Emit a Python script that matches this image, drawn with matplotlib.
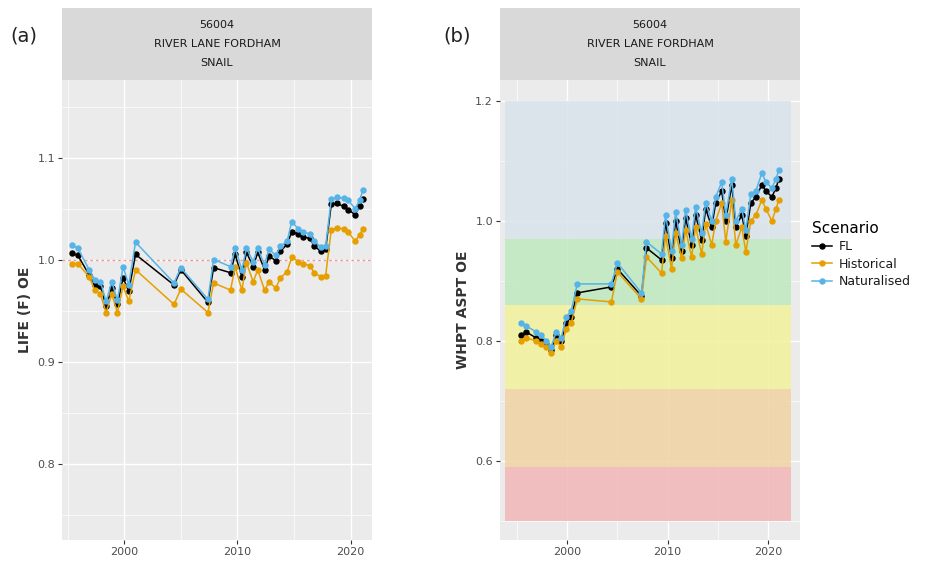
import matplotlib
matplotlib.use("Agg")
import matplotlib.pyplot as plt
from matplotlib.lines import Line2D

# ---------------- data ----------------
dates = [1995.4, 1995.9, 1996.9, 1997.4, 1997.9, 1998.4, 1998.9, 1999.4, 1999.9, 2000.4,
         2001.0, 2004.4, 2005.0, 2007.4, 2007.9, 2009.4, 2009.8, 2010.4, 2010.8, 2011.4,
         2011.8, 2012.4, 2012.8, 2013.4, 2013.8, 2014.4, 2014.8, 2015.4, 2015.8, 2016.4,
         2016.8, 2017.4, 2017.8, 2018.3, 2018.8, 2019.4, 2019.8, 2020.4, 2020.8, 2021.1]

life_fl = [1.006, 1.004, 0.985, 0.975, 0.974, 0.954, 0.972, 0.956, 0.982, 0.969,
           1.005, 0.975, 0.990, 0.958, 0.992, 0.987, 1.005, 0.983, 1.007, 0.993,
           1.007, 0.990, 1.003, 0.999, 1.008, 1.015, 1.027, 1.025, 1.022, 1.021,
           1.013, 1.008, 1.010, 1.054, 1.055, 1.052, 1.049, 1.044, 1.052, 1.059]
life_hist = [0.996, 0.996, 0.983, 0.970, 0.966, 0.948, 0.966, 0.948, 0.974, 0.959,
             0.990, 0.956, 0.971, 0.948, 0.977, 0.970, 0.993, 0.970, 0.997, 0.978,
             0.990, 0.970, 0.978, 0.972, 0.982, 0.988, 1.002, 0.998, 0.996, 0.994,
             0.987, 0.983, 0.984, 1.029, 1.031, 1.030, 1.027, 1.018, 1.024, 1.030]
life_nat = [1.014, 1.011, 0.990, 0.980, 0.978, 0.959, 0.978, 0.960, 0.993, 0.975,
            1.017, 0.977, 0.992, 0.961, 1.000, 0.993, 1.011, 0.990, 1.011, 0.998,
            1.011, 0.995, 1.010, 1.004, 1.013, 1.018, 1.037, 1.030, 1.027, 1.025,
            1.018, 1.012, 1.013, 1.059, 1.061, 1.060, 1.058, 1.050, 1.058, 1.068]

aspt_fl = [0.810, 0.815, 0.805, 0.800, 0.795, 0.785, 0.810, 0.800, 0.830, 0.840,
           0.880, 0.890, 0.920, 0.875, 0.955, 0.935, 0.997, 0.938, 1.000, 0.950,
           1.005, 0.960, 1.010, 0.968, 1.020, 0.990, 1.030, 1.050, 1.000, 1.060,
           0.990, 1.010, 0.975, 1.030, 1.040, 1.060, 1.050, 1.040, 1.055, 1.070]
aspt_hist = [0.800, 0.805, 0.800, 0.795, 0.790, 0.780, 0.800, 0.790, 0.820, 0.830,
             0.870, 0.865, 0.915, 0.870, 0.940, 0.913, 0.975, 0.920, 0.980, 0.938,
             0.985, 0.940, 0.990, 0.945, 0.995, 0.960, 1.000, 1.030, 0.965, 1.035,
             0.960, 0.990, 0.948, 1.000, 1.010, 1.035, 1.020, 1.000, 1.020, 1.035]
aspt_nat = [0.830, 0.825, 0.815, 0.810, 0.800, 0.790, 0.815, 0.805, 0.840, 0.850,
            0.895, 0.895, 0.930, 0.880, 0.965, 0.945, 1.010, 0.950, 1.015, 0.960,
            1.018, 0.970, 1.023, 0.980, 1.030, 1.000, 1.040, 1.065, 1.010, 1.070,
            1.000, 1.020, 0.985, 1.045, 1.050, 1.080, 1.065, 1.055, 1.070, 1.085]

scenarios = ["FL", "Historical", "Naturalised"]
colors = {"FL": "#000000", "Historical": "#E69F00", "Naturalised": "#56B4E9"}

band_edges = [0.5, 0.59, 0.72, 0.86, 0.97, 1.2]
band_colors = ["#f2b6b6", "#f1d3a2", "#f2f29c", "#bfe8bf", "#d9e3ec"]

strip_lines = "56004\nRIVER LANE FORDHAM\nSNAIL"

# ---------------- figure ----------------
W, H = 946, 563
fig = plt.figure(figsize=(W / 100, H / 100), dpi=100)
fig.patch.set_facecolor("white")

def px_axes(x0, y0, x1, y1):
    return fig.add_axes([x0 / W, 1 - y1 / H, (x1 - x0) / W, (y1 - y0) / H])

PANEL = "#EBEBEB"
TXT = "#4D4D4D"

def style(ax, xmaj, xmin_, ymaj, ymin_):
    ax.set_facecolor(PANEL)
    for s in ax.spines.values():
        s.set_visible(False)
    ax.set_xticks(xmaj)
    ax.set_xticks(xmin_, minor=True)
    ax.set_yticks(ymaj)
    ax.set_yticks(ymin_, minor=True)
    ax.grid(True, which="major", color="white", lw=1.0, zorder=0)
    ax.grid(True, which="minor", color="white", lw=0.5, zorder=0)
    ax.set_axisbelow(True)
    ax.tick_params(which="major", length=3, width=0.8, color="#333333",
                   labelsize=8, labelcolor=TXT, pad=2)
    ax.tick_params(which="minor", length=0)

def strip(x0, x1):
    sax = px_axes(x0, 8, x1, 80)
    sax.set_facecolor("#D9D9D9")
    for s in sax.spines.values():
        s.set_visible(False)
    sax.set_xticks([])
    sax.set_yticks([])
    sax.text(0.5, 0.5, strip_lines, ha="center", va="center", fontsize=8,
             color="#1A1A1A", linespacing=2.1, transform=sax.transAxes)

def draw_series(ax, ys):
    for name, y in zip(scenarios, ys):
        ax.plot(dates, y, color=colors[name], lw=1.1, marker="o", ms=3.6,
                zorder=3)

# Panel (a)
ax1 = px_axes(62, 80, 372, 540)
style(ax1, [2000, 2010, 2020], [1995, 2005, 2015],
      [0.8, 0.9, 1.0, 1.1], [0.75, 0.85, 0.95, 1.05, 1.15])
ax1.set_xlim(1994.5, 2021.9)
ax1.set_ylim(0.725, 1.176)
ax1.set_yticklabels(["0.8", "0.9", "1.0", "1.1"])
ax1.axhline(1.0, color="#F08080", lw=1.0, ls=(0, (2, 2)), alpha=0.8, zorder=1)
draw_series(ax1, [life_fl, life_hist, life_nat])
ax1.set_ylabel("LIFE (F) OE", fontsize=10, fontweight="bold", color="#333333",
               labelpad=4)
strip(62, 372)

# Panel (b)
ax2 = px_axes(500, 80, 800, 540)
style(ax2, [2000, 2010, 2020], [1995, 2005, 2015],
      [0.6, 0.8, 1.0, 1.2], [0.5, 0.7, 0.9, 1.1])
ax2.set_xlim(1993.3, 2023.2)
ax2.set_ylim(0.468, 1.235)
ax2.set_yticklabels(["0.6", "0.8", "1.0", "1.2"])
for lo, hi, c in zip(band_edges[:-1], band_edges[1:], band_colors):
    ax2.fill_between([1993.8, 2022.3], lo, hi, color=c, alpha=0.85,
                     lw=0, zorder=1)
draw_series(ax2, [aspt_fl, aspt_hist, aspt_nat])
ax2.set_ylabel("WHPT ASPT OE", fontsize=10, fontweight="bold", color="#333333",
               labelpad=4)
strip(500, 800)

# panel tags
fig.text(10 / W, 1 - 36 / H, "(a)", fontsize=14, color="#222222", va="center")
fig.text(443 / W, 1 - 36 / H, "(b)", fontsize=14, color="#222222", va="center")

# legend
handles = [Line2D([0], [0], color=colors[n], lw=1.1, marker="o", ms=3.6)
           for n in scenarios]
leg = fig.legend(handles, scenarios, title="Scenario",
                 loc="upper left", bbox_to_anchor=(803 / W, 1 - 212 / H),
                 frameon=False, fontsize=9, title_fontsize=11,
                 handlelength=1.6, handletextpad=0.6, labelspacing=0.35,
                 borderpad=0.2)
leg._legend_box.align = "left"
for t in leg.get_texts():
    t.set_color("#1A1A1A")

fig.savefig("out.png", dpi=100, facecolor="white")
